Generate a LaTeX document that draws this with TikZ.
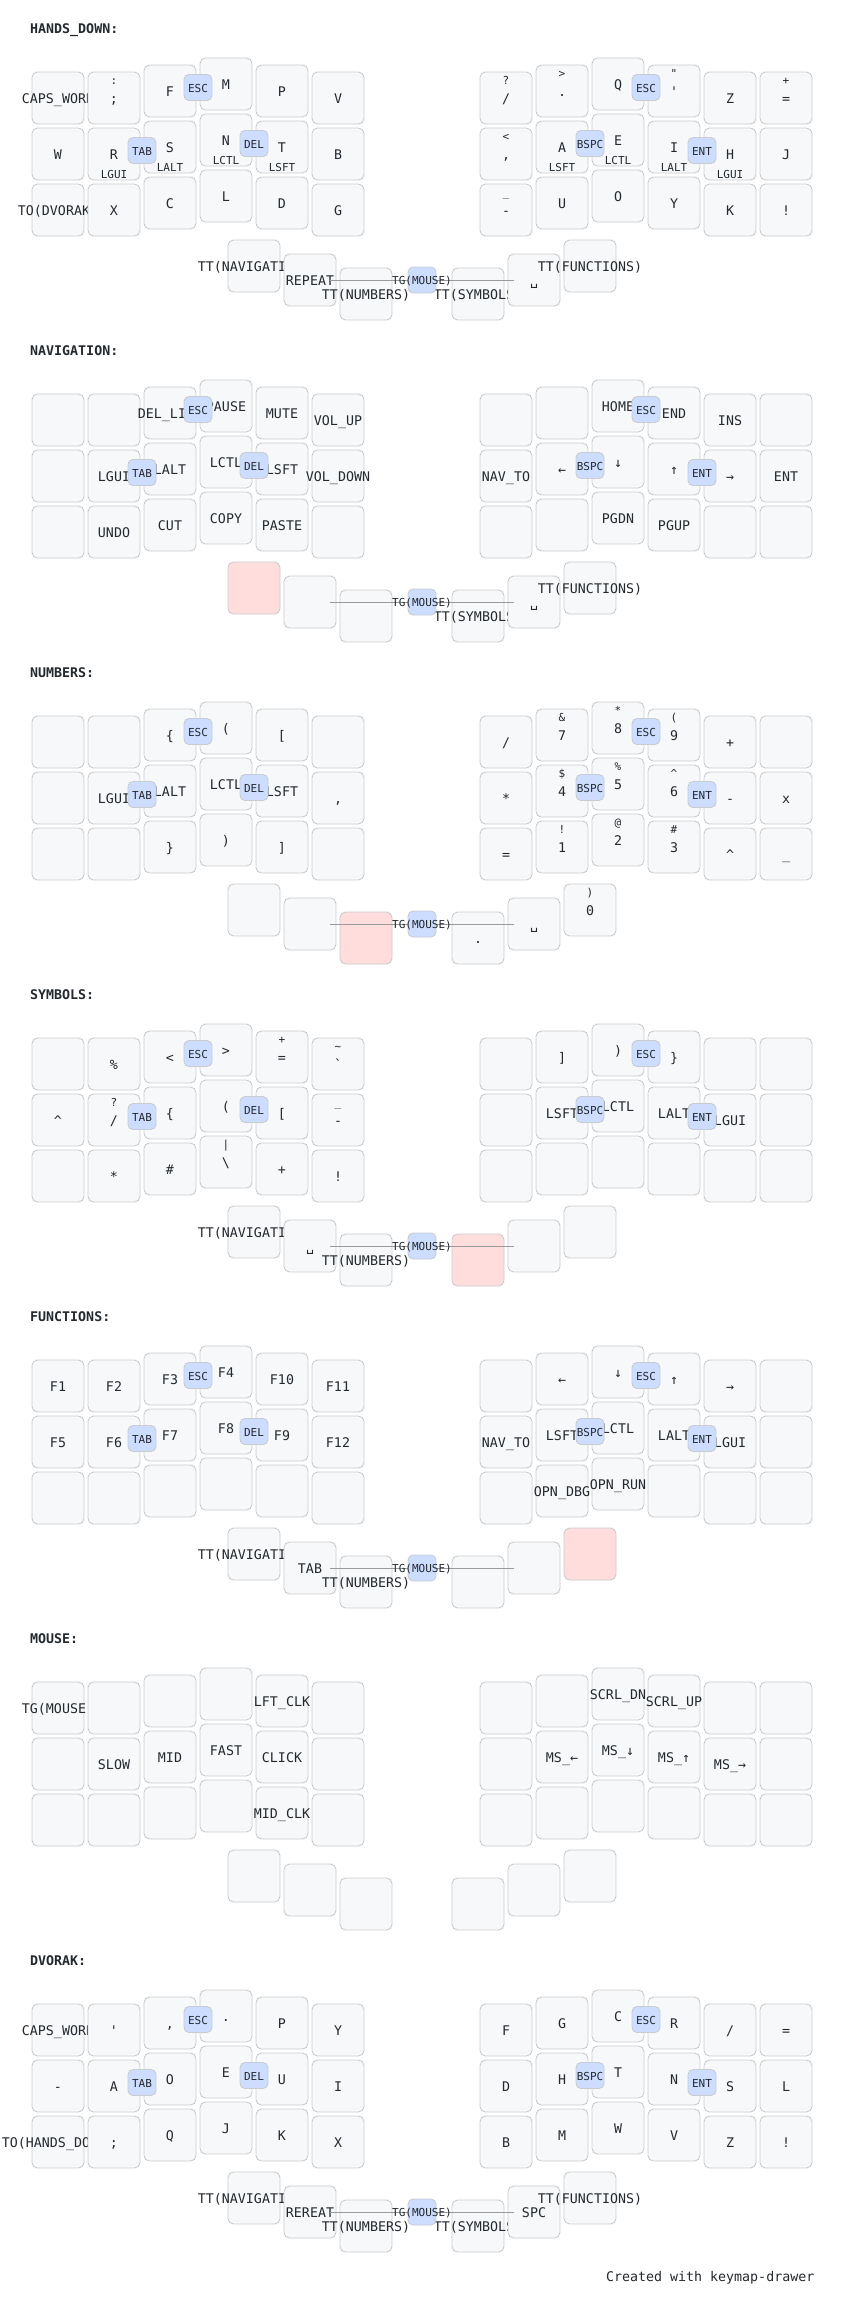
\documentclass[tikz,border=0pt]{standalone}
\usepackage{fontspec}
\newfontfamily\kmfont{DejaVu Sans Mono}
\definecolor{keyfill}{HTML}{F6F8FA}
\definecolor{keystroke}{HTML}{C9CCCF}
\definecolor{combofill}{HTML}{CCDDFF}
\definecolor{heldfill}{HTML}{FFDDDD}
\definecolor{txt}{HTML}{24292E}
\definecolor{linegray}{HTML}{9A9A9A}
\makeatletter
\newcommand\ifnotempty[2]{\if\relax\detokenize{#1}\relax\expandafter\@gobble\else\expandafter\@firstofone\fi{#2}}
\makeatother
\def\kmLx#1{\ifcase#1 58\or114\or170\or226\or282\or338\fi}
\def\kmLy#1{\ifcase#1 98\or98\or91\or84\or91\or98\fi}
\def\kmRx#1{\ifcase#1 506\or562\or618\or674\or730\or786\fi}
\def\kmRy#1{\ifcase#1 98\or91\or84\or91\or98\or98\fi}
\def\kmTx#1{\ifcase#1 254\or310\or366\or478\or534\or590\fi}
\def\kmTy#1{\ifcase#1 266\or280\or294\or294\or280\or266\fi}
\tikzset{
  keybox/.style={rectangle, rounded corners=5.5pt, minimum width=52pt, minimum height=52pt, inner sep=0pt, fill=keyfill, draw=keystroke, line width=0.9pt},
  heldkey/.style={fill=heldfill},
  taptxt/.style={anchor=base, inner sep=0pt, text=txt, font=\kmfont\fontsize{13.3}{16}\selectfont},
  smalltxt/.style={anchor=base, inner sep=0pt, text=txt, font=\kmfont\fontsize{11}{13}\selectfont},
  combobox/.style={rectangle, rounded corners=5pt, minimum width=28pt, minimum height=26pt, inner sep=0pt, fill=combofill, draw=keystroke, line width=0.9pt},
  combotxt/.style={smalltxt},
  comboline/.style={draw=linegray, line width=1pt},
  layertitle/.style={anchor=base west, inner sep=0pt, text=txt, font=\kmfont\bfseries\fontsize{13.3}{16}\selectfont},
  footertxt/.style={anchor=base east, inner sep=0pt, text=txt, font=\kmfont\fontsize{13.3}{16}\selectfont},
}
\newcommand\drawkey[7]{%
  \node[keybox,#4] (#1) at (#2,#3) {};%
  \ifnotempty{#5}{\node[taptxt] (#1-t) at (#2,#3+5) {#5};}%
  \ifnotempty{#6}{\node[smalltxt] (#1-s) at (#2,#3-13.5) {#6};}%
  \ifnotempty{#7}{\node[smalltxt] (#1-h) at (#2,#3+24) {#7};}%
}
\newcommand\kkey[6]{%
  \edef\kmx{\csname km#1x\endcsname{#2}}%
  \edef\kmyb{\csname km#1y\endcsname{#2}}%
  \pgfmathsetmacro\kmy{\kmyb+56*#3}%
  \drawkey{\lname-#1#2#3}{\kmx}{\kmy}{}{#4}{#5}{#6}%
}
\newcommand\krow[8]{%
  \kkey{#1}{0}{#2}#3\kkey{#1}{1}{#2}#4\kkey{#1}{2}{#2}#5%
  \kkey{#1}{3}{#2}#6\kkey{#1}{4}{#2}#7\kkey{#1}{5}{#2}#8}
\newcommand\tkey[4]{%
  \edef\kmx{\kmTx{#1}}\edef\kmy{\kmTy{#1}}%
  \drawkey{\lname-T#1}{\kmx}{\kmy}{}{#2}{#3}{#4}}
\newcommand\tkeyheld[1]{%
  \edef\kmx{\kmTx{#1}}\edef\kmy{\kmTy{#1}}%
  \drawkey{\lname-T#1}{\kmx}{\kmy}{heldkey}{}{}{}}
\newcommand\ckey[4]{%
  \node[combobox] (\lname-#1) at (#2,#3) {};%
  \node[combotxt] (\lname-#1-t) at (#2,#3+4.5) {#4};}
\newcommand\stdcombos{%
  \coordinate (\lname-tgc) at (422,280);
  \draw[comboline, shorten >=20pt] (\lname-tgc) -- (\lname-T1.center);
  \draw[comboline, shorten >=20pt] (\lname-tgc) -- (\lname-T4.center);
  \ckey{escl}{198}{87.5}{ESC}
  \ckey{tab}{142}{150.5}{TAB}
  \ckey{del}{254}{143.5}{DEL}
  \ckey{escr}{646}{87.5}{ESC}
  \ckey{bspc}{590}{143.5}{BSPC}
  \ckey{ent}{702}{150.5}{ENT}
  \ckey{tgm}{422}{280}{TG(MOUSE)}
}
\begin{document}
\begin{tikzpicture}[x=1pt,y=-1pt]
\path[use as bounding box, fill=white] (0,0) rectangle (844,2310);

% ---------------- HANDS_DOWN
\begin{scope}[shift={(0,0)}]
\def\lname{hd}
\node[layertitle] (hd-title) at (30,33) {HANDS\_DOWN:};
\krow{L}{0}{{CAPS\_WORD}{}{}}{{;}{:}{}}{{F}{}{}}{{M}{}{}}{{P}{}{}}{{V}{}{}}
\krow{R}{0}{{/}{?}{}}{{.}{>}{}}{{Q}{}{}}{{\textquotesingle}{"}{}}{{Z}{}{}}{{=}{+}{}}
\krow{L}{1}{{W}{}{}}{{R}{}{LGUI}}{{S}{}{LALT}}{{N}{}{LCTL}}{{T}{}{LSFT}}{{B}{}{}}
\krow{R}{1}{{,}{<}{}}{{A}{}{LSFT}}{{E}{}{LCTL}}{{I}{}{LALT}}{{H}{}{LGUI}}{{J}{}{}}
\krow{L}{2}{{TO(DVORAK)}{}{}}{{X}{}{}}{{C}{}{}}{{L}{}{}}{{D}{}{}}{{G}{}{}}
\krow{R}{2}{{-}{\_}{}}{{U}{}{}}{{O}{}{}}{{Y}{}{}}{{K}{}{}}{{!}{}{}}
\tkey{0}{TT(NAVIGATION)}{}{}
\tkey{1}{REPEAT}{}{}
\tkey{2}{TT(NUMBERS)}{}{}
\tkey{3}{TT(SYMBOLS)}{}{}
\tkey{4}{␣}{}{}
\tkey{5}{TT(FUNCTIONS)}{}{}
\stdcombos
\end{scope}

% ---------------- NAVIGATION
\begin{scope}[shift={(0,322)}]
\def\lname{nav}
\node[layertitle] (nav-title) at (30,33) {NAVIGATION:};
\krow{L}{0}{{}{}{}}{{}{}{}}{{DEL\_LINE}{}{}}{{PAUSE}{}{}}{{MUTE}{}{}}{{VOL\_UP}{}{}}
\krow{R}{0}{{}{}{}}{{}{}{}}{{HOME}{}{}}{{END}{}{}}{{INS}{}{}}{{}{}{}}
\krow{L}{1}{{}{}{}}{{LGUI}{}{}}{{LALT}{}{}}{{LCTL}{}{}}{{LSFT}{}{}}{{VOL\_DOWN}{}{}}
\krow{R}{1}{{NAV\_TO}{}{}}{{←}{}{}}{{↓}{}{}}{{↑}{}{}}{{→}{}{}}{{ENT}{}{}}
\krow{L}{2}{{}{}{}}{{UNDO}{}{}}{{CUT}{}{}}{{COPY}{}{}}{{PASTE}{}{}}{{}{}{}}
\krow{R}{2}{{}{}{}}{{}{}{}}{{PGDN}{}{}}{{PGUP}{}{}}{{}{}{}}{{}{}{}}
\tkeyheld{0}
\tkey{1}{}{}{}
\tkey{2}{}{}{}
\tkey{3}{TT(SYMBOLS)}{}{}
\tkey{4}{␣}{}{}
\tkey{5}{TT(FUNCTIONS)}{}{}
\stdcombos
\end{scope}

% ---------------- NUMBERS
\begin{scope}[shift={(0,644)}]
\def\lname{num}
\node[layertitle] (num-title) at (30,33) {NUMBERS:};
\krow{L}{0}{{}{}{}}{{}{}{}}{{\{}{}{}}{{(}{}{}}{{[}{}{}}{{}{}{}}
\krow{R}{0}{{/}{}{}}{{7}{\&}{}}{{8}{*}{}}{{9}{(}{}}{{+}{}{}}{{}{}{}}
\krow{L}{1}{{}{}{}}{{LGUI}{}{}}{{LALT}{}{}}{{LCTL}{}{}}{{LSFT}{}{}}{{,}{}{}}
\krow{R}{1}{{*}{}{}}{{4}{\$}{}}{{5}{\%}{}}{{6}{\textasciicircum}{}}{{-}{}{}}{{x}{}{}}
\krow{L}{2}{{}{}{}}{{}{}{}}{{\}}{}{}}{{)}{}{}}{{]}{}{}}{{}{}{}}
\krow{R}{2}{{=}{}{}}{{1}{!}{}}{{2}{@}{}}{{3}{\#}{}}{{\textasciicircum}{}{}}{{\_}{}{}}
\tkey{0}{}{}{}
\tkey{1}{}{}{}
\tkeyheld{2}
\tkey{3}{.}{}{}
\tkey{4}{␣}{}{}
\tkey{5}{0}{)}{}
\stdcombos
\end{scope}

% ---------------- SYMBOLS
\begin{scope}[shift={(0,966)}]
\def\lname{sym}
\node[layertitle] (sym-title) at (30,33) {SYMBOLS:};
\krow{L}{0}{{}{}{}}{{\%}{}{}}{{<}{}{}}{{>}{}{}}{{=}{+}{}}{{\textasciigrave}{\textasciitilde}{}}
\krow{R}{0}{{}{}{}}{{]}{}{}}{{)}{}{}}{{\}}{}{}}{{}{}{}}{{}{}{}}
\krow{L}{1}{{\textasciicircum}{}{}}{{/}{?}{}}{{\{}{}{}}{{(}{}{}}{{[}{}{}}{{-}{\_}{}}
\krow{R}{1}{{}{}{}}{{LSFT}{}{}}{{LCTL}{}{}}{{LALT}{}{}}{{LGUI}{}{}}{{}{}{}}
\krow{L}{2}{{}{}{}}{{*}{}{}}{{\#}{}{}}{{\textbackslash}{|}{}}{{+}{}{}}{{!}{}{}}
\krow{R}{2}{{}{}{}}{{}{}{}}{{}{}{}}{{}{}{}}{{}{}{}}{{}{}{}}
\tkey{0}{TT(NAVIGATION)}{}{}
\tkey{1}{␣}{}{}
\tkey{2}{TT(NUMBERS)}{}{}
\tkeyheld{3}
\tkey{4}{}{}{}
\tkey{5}{}{}{}
\stdcombos
\end{scope}

% ---------------- FUNCTIONS
\begin{scope}[shift={(0,1288)}]
\def\lname{fun}
\node[layertitle] (fun-title) at (30,33) {FUNCTIONS:};
\krow{L}{0}{{F1}{}{}}{{F2}{}{}}{{F3}{}{}}{{F4}{}{}}{{F10}{}{}}{{F11}{}{}}
\krow{R}{0}{{}{}{}}{{←}{}{}}{{↓}{}{}}{{↑}{}{}}{{→}{}{}}{{}{}{}}
\krow{L}{1}{{F5}{}{}}{{F6}{}{}}{{F7}{}{}}{{F8}{}{}}{{F9}{}{}}{{F12}{}{}}
\krow{R}{1}{{NAV\_TO}{}{}}{{LSFT}{}{}}{{LCTL}{}{}}{{LALT}{}{}}{{LGUI}{}{}}{{}{}{}}
\krow{L}{2}{{}{}{}}{{}{}{}}{{}{}{}}{{}{}{}}{{}{}{}}{{}{}{}}
\krow{R}{2}{{}{}{}}{{OPN\_DBG}{}{}}{{OPN\_RUN}{}{}}{{}{}{}}{{}{}{}}{{}{}{}}
\tkey{0}{TT(NAVIGATION)}{}{}
\tkey{1}{TAB}{}{}
\tkey{2}{TT(NUMBERS)}{}{}
\tkey{3}{}{}{}
\tkey{4}{}{}{}
\tkeyheld{5}
\stdcombos
\end{scope}

% ---------------- MOUSE
\begin{scope}[shift={(0,1610)}]
\def\lname{mou}
\node[layertitle] (mou-title) at (30,33) {MOUSE:};
\krow{L}{0}{{TG(MOUSE)}{}{}}{{}{}{}}{{}{}{}}{{}{}{}}{{LFT\_CLK}{}{}}{{}{}{}}
\krow{R}{0}{{}{}{}}{{}{}{}}{{SCRL\_DN}{}{}}{{SCRL\_UP}{}{}}{{}{}{}}{{}{}{}}
\krow{L}{1}{{}{}{}}{{SLOW}{}{}}{{MID}{}{}}{{FAST}{}{}}{{CLICK}{}{}}{{}{}{}}
\krow{R}{1}{{}{}{}}{{MS\_←}{}{}}{{MS\_↓}{}{}}{{MS\_↑}{}{}}{{MS\_→}{}{}}{{}{}{}}
\krow{L}{2}{{}{}{}}{{}{}{}}{{}{}{}}{{}{}{}}{{MID\_CLK}{}{}}{{}{}{}}
\krow{R}{2}{{}{}{}}{{}{}{}}{{}{}{}}{{}{}{}}{{}{}{}}{{}{}{}}
\tkey{0}{}{}{}
\tkey{1}{}{}{}
\tkey{2}{}{}{}
\tkey{3}{}{}{}
\tkey{4}{}{}{}
\tkey{5}{}{}{}
\end{scope}

% ---------------- DVORAK
\begin{scope}[shift={(0,1932)}]
\def\lname{dv}
\node[layertitle] (dv-title) at (30,33) {DVORAK:};
\krow{L}{0}{{CAPS\_WORD}{}{}}{{\textquotesingle}{}{}}{{,}{}{}}{{.}{}{}}{{P}{}{}}{{Y}{}{}}
\krow{R}{0}{{F}{}{}}{{G}{}{}}{{C}{}{}}{{R}{}{}}{{/}{}{}}{{=}{}{}}
\krow{L}{1}{{-}{}{}}{{A}{}{}}{{O}{}{}}{{E}{}{}}{{U}{}{}}{{I}{}{}}
\krow{R}{1}{{D}{}{}}{{H}{}{}}{{T}{}{}}{{N}{}{}}{{S}{}{}}{{L}{}{}}
\krow{L}{2}{{TO(HANDS\_DOWN)}{}{}}{{;}{}{}}{{Q}{}{}}{{J}{}{}}{{K}{}{}}{{X}{}{}}
\krow{R}{2}{{B}{}{}}{{M}{}{}}{{W}{}{}}{{V}{}{}}{{Z}{}{}}{{!}{}{}}
\tkey{0}{TT(NAVIGATION)}{}{}
\tkey{1}{REREAT}{}{}
\tkey{2}{TT(NUMBERS)}{}{}
\tkey{3}{TT(SYMBOLS)}{}{}
\tkey{4}{SPC}{}{}
\tkey{5}{TT(FUNCTIONS)}{}{}
\stdcombos
\end{scope}

\node[footertxt] (footer) at (814.5,2281) {Created with keymap-drawer};
\end{tikzpicture}
\end{document}
